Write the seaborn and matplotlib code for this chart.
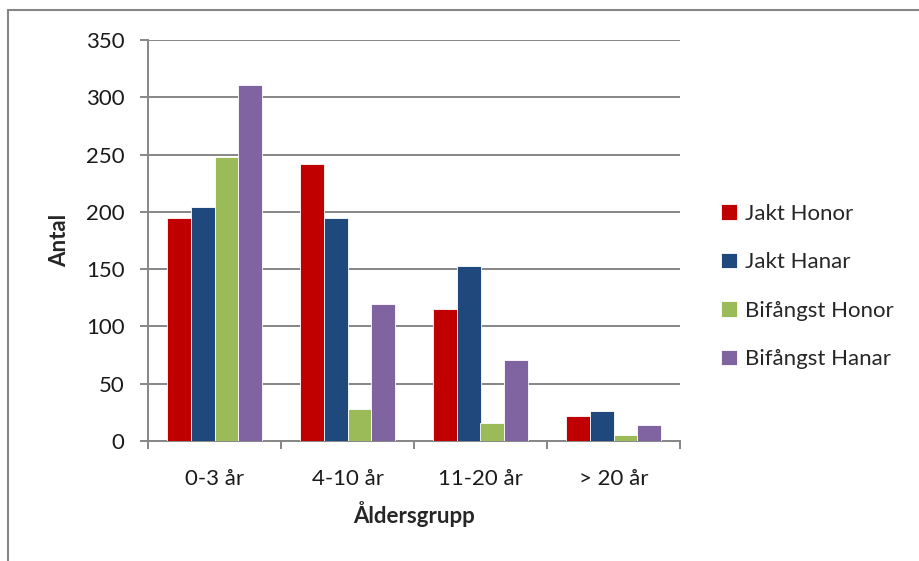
import pandas as pd
import seaborn as sns
import matplotlib.pyplot as plt
from matplotlib.patches import Rectangle

# data
aldersgrupper = ["0-3 år", "4-10 år", "11-20 år", "> 20 år"]
serier = ["Jakt Honor", "Jakt Hanar", "Bifångst Honor", "Bifångst Hanar"]
jakt_honor = [195, 242, 115, 22]
jakt_hanar = [204, 195, 153, 26]
bifangst_honor = [248, 28, 16, 5]
bifangst_hanar = [311, 120, 71, 14]
farger = ["#C00000", "#1F497D", "#9BBB59", "#8064A2"]

rows = []
for serie, vals in zip(serier, [jakt_honor, jakt_hanar, bifangst_honor, bifangst_hanar]):
    for grupp, v in zip(aldersgrupper, vals):
        rows.append({"Åldersgrupp": grupp, "Serie": serie, "Antal": v})
df = pd.DataFrame(rows)

sns.set_style("white")
plt.rcParams['font.family'] = ['Lato', 'DejaVu Sans']
fs = 16

fig = plt.figure(figsize=(9.19, 5.61), dpi=100)
ax = fig.add_axes([148 / 919, 120 / 561, 532 / 919, 401 / 561])

sns.barplot(data=df, x="Åldersgrupp", y="Antal", hue="Serie", order=aldersgrupper,
            hue_order=serier, palette=farger, saturation=1, width=0.72,
            edgecolor="white", linewidth=0.6, errorbar=None, ax=ax, zorder=3)

ax.set_ylim(0, 350)
ax.set_xlim(-0.5, 3.5)
ax.set_yticks(range(0, 351, 50))
ax.yaxis.grid(True, color="#868686", linewidth=1.4)
ax.set_axisbelow(True)
for s in ["top", "right"]:
    ax.spines[s].set_visible(False)
for s in ["left", "bottom"]:
    ax.spines[s].set_color("#868686")
    ax.spines[s].set_linewidth(1.4)

# category ticks between groups, like Excel
ax.set_xticks([-0.5, 0.5, 1.5, 2.5, 3.5], minor=True)
ax.tick_params(axis="x", which="minor", length=6, width=1.4, color="#868686", direction="out", bottom=True)
ax.tick_params(axis="x", which="major", length=0, pad=20, labelsize=fs, labelcolor="#1a1a1a")
ax.tick_params(axis="y", length=6, width=1.4, color="#868686", direction="out", left=True,
               labelsize=fs, labelcolor="#1a1a1a", pad=11)

ax.set_xlabel("Åldersgrupp", fontsize=fs, fontweight="bold", labelpad=9)
ax.set_ylabel("Antal", fontsize=fs, fontweight="bold", labelpad=11)

leg = ax.legend(loc="center left", bbox_to_anchor=(1.04, 0.385), frameon=False, fontsize=fs,
                handlelength=0.7, handleheight=0.7, handletextpad=0.35, labelspacing=1.28)

# outer chart border
fig.patches.append(Rectangle((8 / 919, -0.1), 1.2, (561 - 10) / 561 + 0.1,
                             transform=fig.transFigure, fill=False,
                             edgecolor="#868686", linewidth=1.5))

fig.savefig("out.png", dpi=100)
